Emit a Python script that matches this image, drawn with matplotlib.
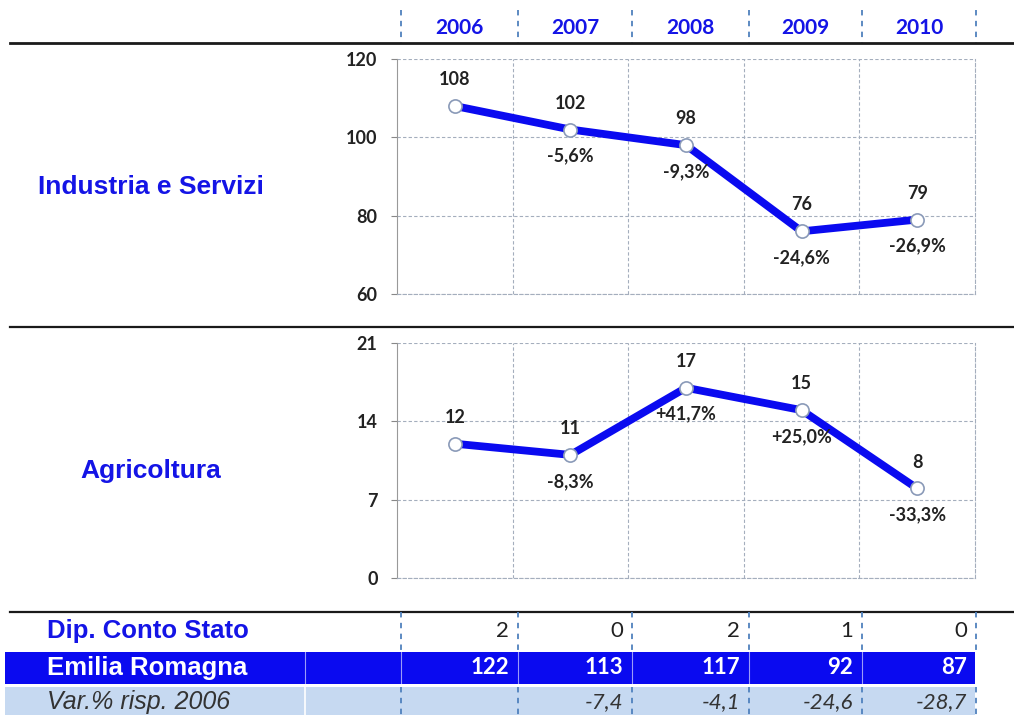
import matplotlib
matplotlib.use("Agg")
import matplotlib.pyplot as plt
from matplotlib.patches import Rectangle

W, H = 1014, 715

anni = ["2006", "2007", "2008", "2009", "2010"]
industria = [108, 102, 98, 76, 79]
industria_var = ["", "-5,6%", "-9,3%", "-24,6%", "-26,9%"]
agricoltura = [12, 11, 17, 15, 8]
agricoltura_var = ["", "-8,3%", "+41,7%", "+25,0%", "-33,3%"]
dip_stato = [2, 0, 2, 1, 0]
emilia = [122, 113, 117, 92, 87]
var_2006 = ["", "-7,4", "-4,1", "-24,6", "-28,7"]

BLU = "#0a0af0"
TITOLO = "#1414e6"
GRIGLIA = "#a4aebd"
DIVISORE = "#4f81bd"
NUM_FONT = ["Lato", "DejaVu Sans"]
LAB_FONT = ["Liberation Sans", "DejaVu Sans"]

fig = plt.figure(figsize=(W / 100, H / 100), dpi=100)

# background axes in pixel coordinates for table, separators and labels
bg = fig.add_axes([0, 0, 1, 1])
bg.set_xlim(0, W)
bg.set_ylim(H, 0)
bg.axis("off")

confini = [401, 518, 632, 749, 862, 976]
centri = [(a + b) / 2 for a, b in zip(confini[:-1], confini[1:])]


def px_axes(left, top, right, bottom):
    return fig.add_axes([left / W, 1 - bottom / H, (right - left) / W, (bottom - top) / H])


def grafico(ax, valori, variazioni, ymin, ymax, passo):
    x = range(len(valori))
    ax.plot(x, valori, color=BLU, lw=5.6, solid_capstyle="round", zorder=3)
    ax.plot(x, valori, ls="none", marker="o", ms=9.5, mfc="white", mec="#8a9ab8", mew=1.2, zorder=4)
    ax.set_xlim(-0.5, len(valori) - 0.5)
    ax.set_ylim(ymin, ymax)
    ax.set_yticks(range(ymin, ymax + 1, passo))
    ax.set_xticks([])
    ax.set_xticks([i + 0.5 for i in range(len(valori) - 1)], minor=True)
    ax.grid(True, which="minor", axis="x", ls=(0, (3, 2)), color=GRIGLIA, lw=0.8)
    ax.grid(True, which="major", axis="y", ls=(0, (3, 2)), color=GRIGLIA, lw=0.8)
    ax.tick_params(axis="x", which="both", length=0)
    ax.tick_params(axis="y", length=4, color="#888888", pad=10)
    ax.spines["top"].set_visible(False)
    for s in ["right", "bottom"]:
        ax.spines[s].set_linestyle((0, (3, 2)))
        ax.spines[s].set_color(GRIGLIA)
        ax.spines[s].set_linewidth(0.8)
    ax.spines["left"].set_color("#999999")
    for lab in ax.get_yticklabels():
        lab.set_fontfamily(NUM_FONT)
        lab.set_fontweight("bold")
        lab.set_fontsize(13)
        lab.set_color("#222222")
    for i, (v, p) in enumerate(zip(valori, variazioni)):
        ax.annotate(str(v), (i, v), xytext=(0, 19), textcoords="offset points",
                    ha="center", va="center", fontsize=13, fontweight="bold",
                    family=NUM_FONT, color="#222222", zorder=5)
        if p:
            ax.annotate(p, (i, v), xytext=(0, -19), textcoords="offset points",
                        ha="center", va="center", fontsize=13, fontweight="bold",
                        family=NUM_FONT, color="#222222", zorder=5)


ax1 = px_axes(397, 59, 975, 294)
grafico(ax1, industria, industria_var, 60, 120, 20)
ax2 = px_axes(397, 343, 975, 578)
grafico(ax2, agricoltura, agricoltura_var, 0, 21, 7)

# header
for xb in confini:
    bg.plot([xb, xb], [10, 43], ls=(0, (3, 3)), color=DIVISORE, lw=1.3)
for c, a in zip(centri, anni):
    bg.text(c, 28, a, ha="center", va="center", fontsize=15, fontweight="bold",
            family=NUM_FONT, color=TITOLO)
bg.plot([10, W], [43, 43], color="#1a1a1a", lw=2)
bg.plot([10, W], [327, 327], color="#1a1a1a", lw=1.6)
bg.plot([10, W], [612, 612], color="#1a1a1a", lw=1.6)

bg.text(151, 187, "Industria e Servizi", ha="center", va="center", fontsize=19,
        fontweight="bold", family=LAB_FONT, color=TITOLO)
bg.text(151, 471, "Agricoltura", ha="center", va="center", fontsize=19,
        fontweight="bold", family=LAB_FONT, color=TITOLO)

# table rows
bg.add_patch(Rectangle((5, 652), 970, 32, color=BLU, lw=0))
bg.add_patch(Rectangle((5, 687), 970, 28, color="#c6d9f1", lw=0))
for xb in [305] + confini[:-1]:
    bg.plot([xb, xb], [652, 684], color="white", lw=0.8, alpha=0.6)
bg.plot([305, 305], [687, 715], color="white", lw=1.2)
for xb in confini:
    bg.plot([xb, xb], [612, 650], ls=(0, (3, 3)), color=DIVISORE, lw=1.3)
    bg.plot([xb, xb], [687, 715], ls=(0, (3, 3)), color=DIVISORE, lw=1.3)

bg.text(47, 631, "Dip. Conto Stato", ha="left", va="center", fontsize=18.5,
        fontweight="bold", family=LAB_FONT, color=TITOLO)
bg.text(47, 668, "Emilia Romagna", ha="left", va="center", fontsize=18.5,
        fontweight="bold", family=LAB_FONT, color="white")
bg.text(47, 702, "Var.% risp. 2006", ha="left", va="center", fontsize=18,
        style="italic", family=LAB_FONT, color="#333333")

for xb, d, e, v in zip(confini[1:], dip_stato, emilia, var_2006):
    bg.text(xb - 9, 631, str(d), ha="right", va="center", fontsize=16,
            family=NUM_FONT, color="#222222")
    bg.text(xb - 9, 668, str(e), ha="right", va="center", fontsize=16,
            fontweight="bold", family=NUM_FONT, color="white")
    bg.text(xb - 9, 702, v, ha="right", va="center", fontsize=16,
            style="italic", family=NUM_FONT, color="#333333")

fig.savefig("out.png", dpi=100)
